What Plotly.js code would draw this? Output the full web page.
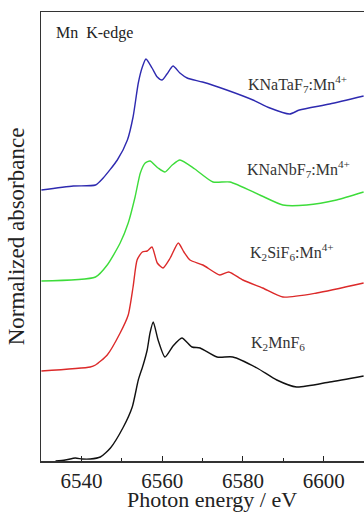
<!DOCTYPE html>
<html>
<head>
<meta charset="utf-8">
<script src="https://cdn.plot.ly/plotly-3.0.1.min.js"></script>
<style>html,body{margin:0;padding:0;background:#fff;}#chart{width:364px;height:513px;}</style>
</head>
<body>
<div id="chart"></div>
<script>
// Photon energy (eV) and normalized absorbance (vertically offset) for each sample
const blueX  = [6530.1,6538,6543.5,6545.4,6548.9,6551.4,6552.8,6554.1,6555.1,6556,6557.5,6558.8,6560,6561.2,6562.7,6564.4,6566.2,6570,6576,6582.5,6586.7,6591.6,6594,6601.5,6609.9];
const blueY  = [2.71,2.75,2.76,2.83,3.01,3.21,3.44,3.78,3.94,4.02,3.93,3.84,3.81,3.87,3.95,3.88,3.83,3.79,3.71,3.61,3.53,3.47,3.51,3.57,3.65];

const greenX = [6530.1,6543.5,6546.4,6549.6,6551.6,6553.3,6554.6,6555.8,6557,6559,6560.7,6562.5,6564.4,6568.1,6572.6,6576.8,6584.2,6589.9,6595.8,6603.2,6609.9];
const greenY = [1.80,1.84,1.96,2.18,2.38,2.64,2.88,2.98,3.00,2.93,2.89,2.96,3.01,2.92,2.79,2.79,2.66,2.56,2.56,2.61,2.69];

const redX   = [6530.1,6542.2,6543.5,6546.4,6549.6,6551.6,6552.8,6553.8,6555.1,6556.3,6557.5,6558.8,6560.2,6562,6564,6565.4,6566.9,6570.1,6574.3,6576.5,6580,6584.9,6589.9,6598.3,6609.9];
const redY   = [0.90,0.94,0.96,1.06,1.28,1.46,1.74,2.01,2.09,2.10,2.14,1.98,1.93,2.03,2.18,2.09,2.01,1.96,1.86,1.89,1.81,1.73,1.64,1.68,1.78];

const blackX = [6533.6,6536,6538.5,6540.2,6542.2,6544.7,6547.2,6550.4,6552.6,6554.1,6555.3,6556.3,6557,6557.8,6559,6560.7,6562.7,6564.9,6567.4,6569.4,6573.6,6577.5,6583.5,6588.4,6593.3,6601.5,6609.9];
const blackY = [0.00,0.01,0.03,0.02,0.02,0.04,0.13,0.34,0.54,0.81,0.96,1.11,1.28,1.39,1.21,1.04,1.15,1.23,1.14,1.13,1.04,1.04,0.93,0.81,0.74,0.79,0.85];

const seriesNames = ["KNaTaF<sub>7</sub>:Mn<sup>4+</sup>","KNaNbF<sub>7</sub>:Mn<sup>4+</sup>","K<sub>2</sub>SiF<sub>6</sub>:Mn<sup>4+</sup>","K<sub>2</sub>MnF<sub>6</sub>"];
const edgeLabel = "Mn\u00a0\u00a0K-edge";
const xTitle = "Photon energy / eV";
const yTitle = "Normalized absorbance";
const xTickVals = [6540,6560,6580,6600];

const serif = "Liberation Serif";
const colors = ["#2e2ab0","#3ddc3a","#dc2a2a","#111111"];
const xs = [blueX, greenX, redX, blackX];
const ys = [blueY, greenY, redY, blackY];

const traces = xs.map((x,i)=>({
  x: x, y: ys[i], type:'scatter', mode:'lines', name: seriesNames[i],
  line:{color:colors[i], width:1.4, shape:'spline', smoothing:0.6},
  showlegend:false, hoverinfo:'skip'
}));

const labelPos = [[6580.8,3.77],[6580.6,2.92],[6581.3,2.09],[6581.6,1.18]];
const annotations = seriesNames.map((t,i)=>({
  x: labelPos[i][0], y: labelPos[i][1], xref:'x', yref:'y', text:t, showarrow:false,
  xanchor:'left', yanchor:'middle', font:{family:serif, size:16, color:'#333'}
}));
annotations.push({x:6533.3, y:4.28, xref:'x', yref:'y', text:edgeLabel, showarrow:false,
  xanchor:'left', yanchor:'middle', font:{family:serif, size:16, color:'#222'}});
// x-axis title placed as a paper-anchored text below the tick labels
annotations.push({x:0.53, y:-0.1158, xref:'paper', yref:'paper', text:xTitle, showarrow:false,
  xanchor:'center', yanchor:'bottom', borderpad:0, font:{family:serif, size:22, color:'#222'}});

const layout = {
  width:364, height:513,
  margin:{l:41, r:0, t:12, b:52},
  paper_bgcolor:'#fff', plot_bgcolor:'#fff',
  showlegend:false,
  xaxis:{
    range:[6530,6610], tickvals:xTickVals, ticktext:xTickVals.map(String),
    ticks:'inside', ticklen:5, tickwidth:1.2, tickcolor:'#222',
    minor:{dtick:10, tick0:6530, ticks:'inside', ticklen:3, tickwidth:1, tickcolor:'#222', showgrid:false},
    showline:true, linecolor:'#333', linewidth:1.5, mirror:true,
    showgrid:false, zeroline:false,
    tickfont:{family:serif, size:21, color:'#222'}
  },
  yaxis:{
    range:[0,4.49], showticklabels:false, ticks:'',
    showline:true, linecolor:'#333', linewidth:1.5, mirror:false,
    showgrid:false, zeroline:false,
    title:{text:yTitle, font:{family:serif, size:23, color:'#222'}, standoff:8}
  },
  annotations: annotations
};

Plotly.newPlot('chart', traces, layout, {displayModeBar:false, staticPlot:true});
</script>
</body>
</html>
